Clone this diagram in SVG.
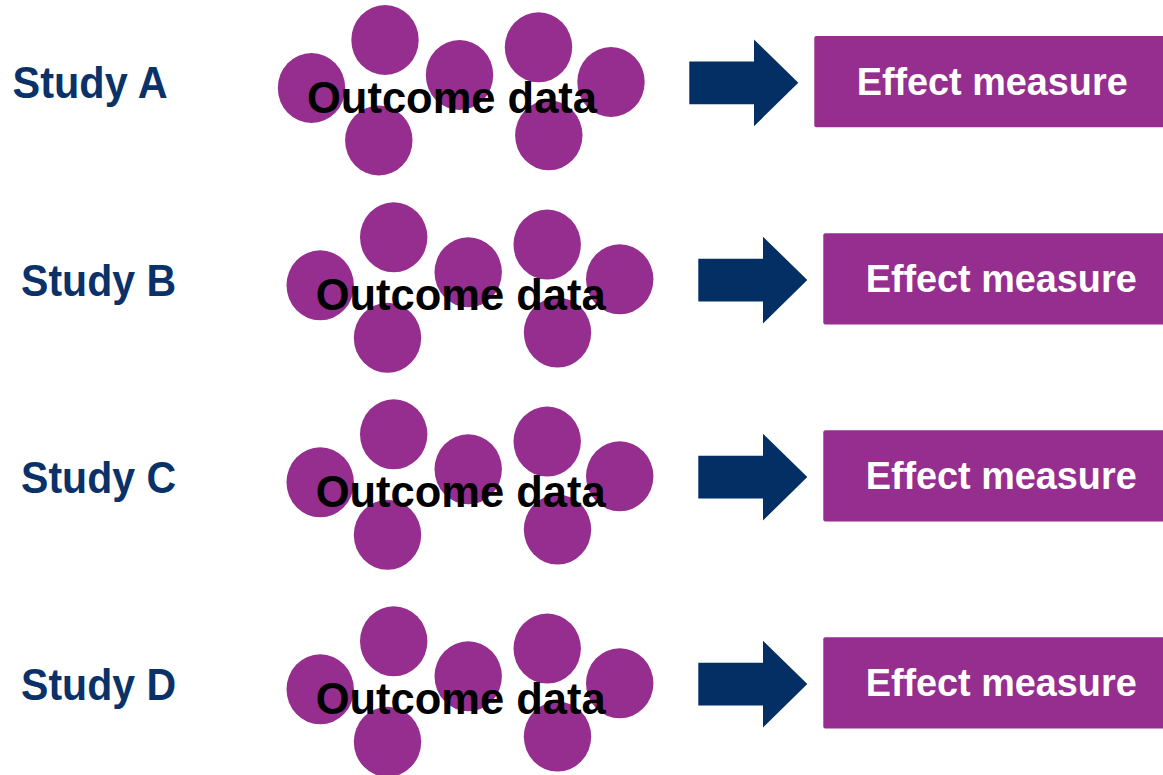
<svg xmlns="http://www.w3.org/2000/svg" width="1163" height="775" viewBox="0 0 1163 775">
  <defs>
    <style>
      .study { font-family: "Liberation Sans", Arial, sans-serif; font-weight: bold; font-size: 44px; fill: #0a3268; }
      .dot { fill: #952e8e; }
      .outcome { font-family: "Liberation Sans", Arial, sans-serif; font-weight: bold; font-size: 44px; fill: #000000; }
      .box { fill: #952e8e; }
      .effect { font-family: "Liberation Sans", Arial, sans-serif; font-weight: bold; font-size: 39.5px; fill: #ffffff; }
      .arrow { fill: #032f64; }
    </style>
    <!-- cluster of outcome dots, shared by every study -->
    <g id="dots">
      <ellipse class="dot" cx="311.5" cy="88" rx="33.7" ry="35"/>
      <ellipse class="dot" cx="385" cy="40" rx="33.7" ry="35"/>
      <ellipse class="dot" cx="459.5" cy="75" rx="33.7" ry="35"/>
      <ellipse class="dot" cx="538.5" cy="47.3" rx="33.7" ry="35"/>
      <ellipse class="dot" cx="611" cy="82" rx="33.7" ry="35"/>
      <ellipse class="dot" cx="378.8" cy="140.5" rx="33.7" ry="35"/>
      <ellipse class="dot" cx="548.8" cy="135.3" rx="33.7" ry="35"/>
    </g>
    <polygon id="block-arrow" points="689.3,61.5 754,61.5 754,39.4 798.3,82.7 754,126.2 754,104.2 689.3,104.2"/>
  </defs>

  <rect width="1163" height="775" fill="#ffffff"/>

  <!-- Study A -->
  <g id="study-a" transform="translate(0,0)">
    <text class="study" x="12.6" y="98.3" textLength="155" lengthAdjust="spacingAndGlyphs">Study A</text>
  </g>
  <g id="outcome-a" transform="translate(0,0)">
    <use href="#dots"/>
    <text class="outcome" x="307" y="113" textLength="290" lengthAdjust="spacingAndGlyphs">Outcome data</text>
  </g>
  <g id="effect-a" transform="translate(0,0)">
    <rect class="box" x="814.3" y="36" width="360" height="91.3" rx="2"/>
    <text class="effect" x="856.7" y="95" textLength="271" lengthAdjust="spacingAndGlyphs">Effect measure</text>
  </g>

  <!-- Study B -->
  <g id="study-b" transform="translate(8.5,197.3)">
    <text class="study" x="12.6" y="98.3" textLength="155" lengthAdjust="spacingAndGlyphs">Study B</text>
  </g>
  <g id="outcome-b" transform="translate(8.7,197.3)">
    <use href="#dots"/>
    <text class="outcome" x="307" y="113" textLength="290" lengthAdjust="spacingAndGlyphs">Outcome data</text>
  </g>
  <g id="effect-b" transform="translate(9,197.3)">
    <rect class="box" x="814.3" y="36" width="360" height="91.3" rx="2"/>
    <text class="effect" x="856.7" y="95" textLength="271" lengthAdjust="spacingAndGlyphs">Effect measure</text>
  </g>

  <!-- Study C -->
  <g id="study-c" transform="translate(8.5,394.3)">
    <text class="study" x="12.6" y="98.3" textLength="155" lengthAdjust="spacingAndGlyphs">Study C</text>
  </g>
  <g id="outcome-c" transform="translate(8.7,394.3)">
    <use href="#dots"/>
    <text class="outcome" x="307" y="113" textLength="290" lengthAdjust="spacingAndGlyphs">Outcome data</text>
  </g>
  <g id="effect-c" transform="translate(9,394.3)">
    <rect class="box" x="814.3" y="36" width="360" height="91.3" rx="2"/>
    <text class="effect" x="856.7" y="95" textLength="271" lengthAdjust="spacingAndGlyphs">Effect measure</text>
  </g>

  <!-- Study D -->
  <g id="study-d" transform="translate(8.5,601.3)">
    <text class="study" x="12.6" y="98.3" textLength="155" lengthAdjust="spacingAndGlyphs">Study D</text>
  </g>
  <g id="outcome-d" transform="translate(8.7,601.3)">
    <use href="#dots"/>
    <text class="outcome" x="307" y="113" textLength="290" lengthAdjust="spacingAndGlyphs">Outcome data</text>
  </g>
  <g id="effect-d" transform="translate(9,601.3)">
    <rect class="box" x="814.3" y="36" width="360" height="91.3" rx="2"/>
    <text class="effect" x="856.7" y="95" textLength="271" lengthAdjust="spacingAndGlyphs">Effect measure</text>
  </g>

  <!-- block arrows from outcome data to effect measure -->
  <g id="connectors" class="arrow">
    <use href="#block-arrow" transform="translate(0,0)"/>
    <use href="#block-arrow" transform="translate(9,197.3)"/>
    <use href="#block-arrow" transform="translate(9,394.3)"/>
    <use href="#block-arrow" transform="translate(9,601.3)"/>
  </g>
</svg>
